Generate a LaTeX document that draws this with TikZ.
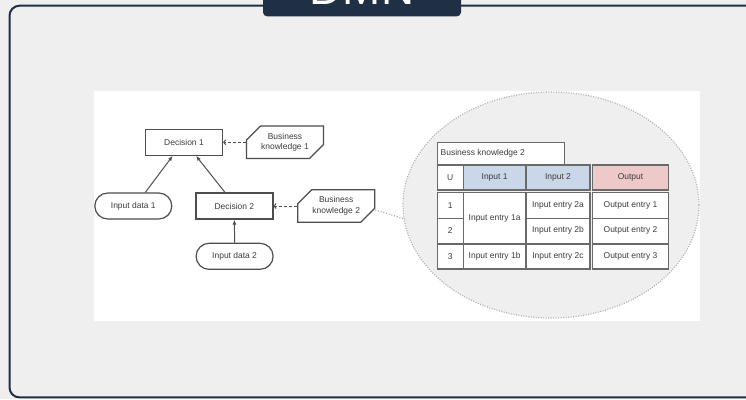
\documentclass[tikz,border=0pt]{standalone}
\usepackage{fontspec}
\setmainfont{Liberation Sans}
\usetikzlibrary{arrows.meta,shapes.misc,shapes.geometric}
\definecolor{navy}{HTML}{1F3045}
\definecolor{bg}{HTML}{EFEFEF}
\definecolor{ink}{HTML}{3C3C3C}
\definecolor{edge}{HTML}{4E4E4E}
\definecolor{tedge}{HTML}{6A6A6A}
\definecolor{inblue}{HTML}{C9D7E8}
\definecolor{outred}{HTML}{EDC9C9}
\definecolor{zoomfill}{HTML}{EFEFEF}
\begin{document}
\begin{tikzpicture}[x=1bp,y=-1bp,
  txt/.style={font=\fontsize{8.5}{10.7}\selectfont, text=ink, inner sep=0pt, align=center},
  shp/.style={txt, draw=edge, line width=1.2bp, fill=white, minimum width=77bp, minimum height=26bp},
  decbox/.style={shp, rectangle},
  datbox/.style={shp, rounded rectangle},
  knbox/.style={shp, chamfered rectangle, chamfered rectangle corners={north west,south east}, chamfered rectangle xsep=7bp, chamfered rectangle ysep=7bp},
  req/.style={draw=edge, line width=1bp, -{Latex[length=5bp,width=4bp]}},
  kreq/.style={draw=edge, line width=1bp, dash pattern=on 3bp off 2bp, -{Straight Barb[length=2bp,width=5bp]}},
  cell/.style={draw=tedge, line width=1.2bp},
]
\useasboundingbox (0,0) rectangle (746,399);
\fill[bg] (0,0) rectangle (746,399);
% outer frame
\draw[navy, line width=2bp, rounded corners=10bp] (780,5.7) -- (9.5,5.7) -- (9.5,397.4) -- (780,397.4);
% title tab
\fill[navy, rounded corners=4bp] (263,-10) rectangle (461,16.3);
\node[anchor=base, text=white, font=\fontsize{46}{46}\selectfont, inner sep=0pt] (title) at (362,4) {DMN};
% white picture area
\fill[white] (94.3,91) rectangle (700,320.7);
% zoom ellipse
\node[ellipse, draw=gray!60, fill=zoomfill, line width=1.2bp, dash pattern=on 1bp off 1.5bp, minimum width=296bp, minimum height=226bp, inner sep=0pt] (zoom) at (551,205) {};
% DMN graph
\node[decbox] (d1) at (184,142.2) {Decision 1};
\node[knbox] (bk1) at (285,142.2) {Business\\knowledge 1};
\node[datbox] (in1) at (133.3,206) {Input data 1};
\node[decbox] (d2) at (234.4,206) {Decision 2};
\node[knbox] (bk2) at (336.2,206) {Business\\knowledge 2};
\node[datbox] (in2) at (234.6,256.3) {Input data 2};
\draw[req] ([xshift=12bp]in1.north) -- ([xshift=-11.3bp]d1.south);
\draw[req] ([xshift=-9.4bp]d2.north) -- ([xshift=12bp]d1.south);
\draw[req] (in2.north) -- (d2.south);
\draw[kreq] (bk1.west) -- (d1.east);
\draw[kreq] (bk2.west) -- (d2.east);
\coordinate (ze) at (405,219);
\draw[gray!70, line width=1.1bp, dash pattern=on 1bp off 1.8bp] ([yshift=-4bp]bk2.east) -- (ze);
% decision table
\draw[cell, fill=white] (437.3,142.3) rectangle (564.3,165);
\node[txt, anchor=west] (tt) at (440.5,153.8) {Business knowledge 2};
\draw[cell, fill=white] (437.3,165) rectangle (463.3,190);
\draw[cell, fill=inblue] (463.3,165) rectangle (526,190);
\draw[cell, fill=inblue] (526,165) rectangle (590,190);
\draw[cell, fill=outred] (592.3,165) rectangle (668.7,190);
\node[txt] (hu) at (450.3,177.5) {U};
\node[txt] (hi1) at (494.6,177.5) {Input 1};
\node[txt] (hi2) at (558,177.5) {Input 2};
\node[txt] (ho) at (630.5,177.5) {Output};
% body
\draw[cell, fill=white] (437.3,192.7) rectangle (463.3,218.3);
\draw[cell, fill=white] (437.3,218.3) rectangle (463.3,243.3);
\draw[cell, fill=white] (437.3,244.5) rectangle (463.3,269);
\draw[cell, fill=white] (463.3,192.7) rectangle (526,243.3);
\draw[cell, fill=white] (463.3,244.5) rectangle (526,269);
\draw[cell, fill=white] (526,192.7) rectangle (590,218.3);
\draw[cell, fill=white] (526,218.3) rectangle (590,243.3);
\draw[cell, fill=white] (526,244.5) rectangle (590,269);
\draw[cell, fill=white] (592.3,192.7) rectangle (668.7,218.3);
\draw[cell, fill=white] (592.3,218.3) rectangle (668.7,243.3);
\draw[cell, fill=white] (592.3,244.5) rectangle (668.7,269);
\node[txt] (r1) at (450.3,205.5) {1};
\node[txt] (r2) at (450.3,230.8) {2};
\node[txt] (r3) at (450.3,256.7) {3};
\node[txt] (e1a) at (494.6,218) {Input entry 1a};
\node[txt] (e1b) at (494.6,256.7) {Input entry 1b};
\node[txt] (e2a) at (558,205.5) {Input entry 2a};
\node[txt] (e2b) at (558,230.8) {Input entry 2b};
\node[txt] (e2c) at (558,256.7) {Input entry 2c};
\node[txt] (o1) at (630.5,205.5) {Output entry 1};
\node[txt] (o2) at (630.5,230.8) {Output entry 2};
\node[txt] (o3) at (630.5,256.7) {Output entry 3};
\end{tikzpicture}
\end{document}
